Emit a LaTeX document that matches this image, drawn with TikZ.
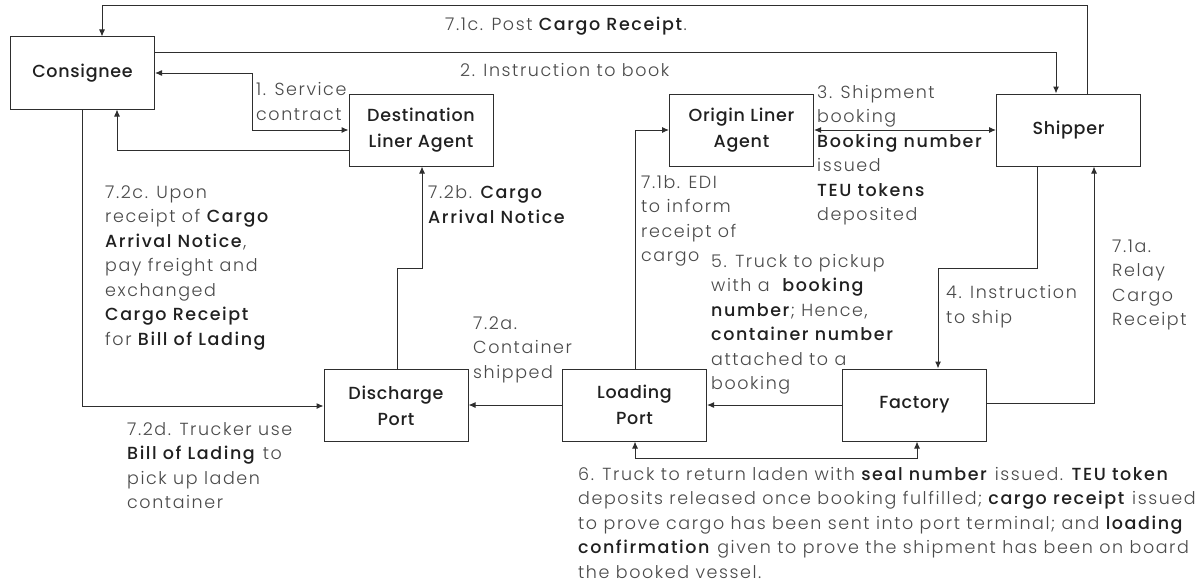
\documentclass[tikz,border=0pt]{standalone}
\usepackage{fontspec}
\setmainfont{Poppins Light}[BoldFont={Poppins Medium}]
\newfontfamily\lblfont{Poppins Light}[BoldFont={Poppins Medium}, LetterSpace=9]
\newfontfamily\boxfont{Poppins Medium}[LetterSpace=4]
\usetikzlibrary{arrows.meta}
\definecolor{txt}{HTML}{4A4A4A}
\definecolor{bld}{HTML}{202020}
\definecolor{ln}{HTML}{2E2E2E}
\newcommand\bt[1]{\textcolor{bld}{\textbf{#1}}}
\begin{document}
\begin{tikzpicture}[x=1pt,y=-1pt,
  box/.style={draw=ln, line width=1pt, minimum width=144pt, minimum height=72pt, inner sep=0pt, align=center, text=bld, font=\boxfont\fontsize{17.5}{26}\selectfont},
  lbl/.style={anchor=base west, inner sep=0pt, align=left, text=txt, font=\lblfont\fontsize{17.5}{24.5}\selectfont},
  arr/.style={draw=ln, line width=1pt, -{Latex[length=7pt,width=6pt]}},
  dbl/.style={draw=ln, line width=1pt, {Latex[length=7pt,width=6pt]}-{Latex[length=7pt,width=6pt]}}]
\fill[white] (0,0) rectangle (1198,586);
\useasboundingbox (0,0) rectangle (1198,586);
% boxes
\node[box] (cons) at (82.5,73) {Consignee};
\node[box] (dest) at (421,130) {Destination\\Liner Agent};
\node[box] (orig) at (741.5,130) {Origin Liner\\Agent};
\node[box] (ship) at (1068.5,130) {Shipper};
\node[box] (disc) at (396,405.5) {Discharge\\Port};
\node[box] (load) at (634.5,405) {Loading\\Port};
\node[box] (fact) at (914.5,405) {Factory};
% helper coordinates
\coordinate (t1) at (1087,6); \coordinate (t2) at (102,6);
\coordinate (b2) at (1056,53);
\coordinate (s1) at (252,73); \coordinate (s2) at (252,130);
\coordinate (r1) at (117,150);
\coordinate (d1) at (82,406);
\coordinate (p1) at (397,268); \coordinate (p2) at (422,268);
\coordinate (e1) at (635,130);
\coordinate (f1) at (1037,268); \coordinate (f2) at (938,268);
\coordinate (g1) at (1094,403);
\coordinate (h1) at (635,458); \coordinate (h2) at (917,458);
% connectors
\draw[arr] (t1 |- ship.north) -- (t1) -- (t2) -- (t2 |- cons.north);
\draw[arr] (b2 -| cons.east) -- (b2) -- (b2 |- ship.north);
\draw[dbl] (s1 -| cons.east) -- (s1) -- (s2) -- (s2 -| dest.west);
\draw[arr] (r1 -| dest.west) -- (r1) -- (r1 |- cons.south);
\draw[arr] (d1 |- cons.south) -- (d1) -- (d1 -| disc.west);
\draw[arr] (p1 |- disc.north) -- (p1) -- (p2) -- (p2 |- dest.south);
\draw[arr] (load.west) -- (load.west -| disc.east);
\draw[arr] (e1 |- load.north) -- (e1) -- (e1 -| orig.west);
\draw[dbl] (orig.east) -- (ship.west);
\draw[arr] (f1 |- ship.south) -- (f1) -- (f2) -- (f2 |- fact.north);
\draw[arr] (g1 -| fact.east) -- (g1) -- (g1 |- ship.south);
\draw[arr] (fact.west) -- (fact.west -| load.east);
\draw[dbl] (h1 |- load.south) -- (h1) -- (h2) -- (h2 |- fact.south);
% labels (anchor = baseline of last line)
\node[lbl] (l71c) at (445,31) {7.1c. Post \bt{Cargo Receipt}.};
\node[lbl] (l2) at (460,77) {2. Instruction to book};
\node[lbl] (l1) at (256,120) {1. Service\\contract};
\node[lbl] (l3) at (817,220.5) {3. Shipment\\booking\\\bt{Booking number}\\issued\\\bt{TEU tokens}\\deposited};
\node[lbl] (l71b) at (641,261.5) {7.1b. EDI\\to inform\\receipt of\\cargo};
\node[lbl] (l72c) at (105,345) {7.2c. Upon\\receipt of \bt{Cargo}\\\bt{Arrival Notice},\\pay freight and\\exchanged\\\bt{Cargo Receipt}\\for \bt{Bill of Lading}};
\node[lbl] (l72b) at (428,223) {7.2b. \bt{Cargo}\\\bt{Arrival Notice}};
\node[lbl] (l72a) at (473,378) {7.2a.\\Container\\shipped};
\node[lbl] (l5) at (711,389.5) {5. Truck to pickup\\with a \ \bt{booking}\\\bt{number}; Hence,\\\bt{container number}\\attached to a\\booking};
\node[lbl] (l4) at (946,323) {4. Instruction\\to ship};
\node[lbl] (l71a) at (1112,325.5) {7.1a.\\Relay\\Cargo\\Receipt};
\node[lbl] (l72d) at (127,508.5) {7.2d. Trucker use\\\bt{Bill of Lading} to\\pick up laden\\container};
\node[lbl] (l6) at (578,578) {6. Truck to return laden with \bt{seal number} issued. \bt{TEU token}\\deposits released once booking fulfilled; \bt{cargo receipt} issued\\to prove cargo has been sent into port terminal; and \bt{loading}\\\bt{confirmation} given to prove the shipment has been on board\\the booked vessel.};
\end{tikzpicture}
\end{document}
